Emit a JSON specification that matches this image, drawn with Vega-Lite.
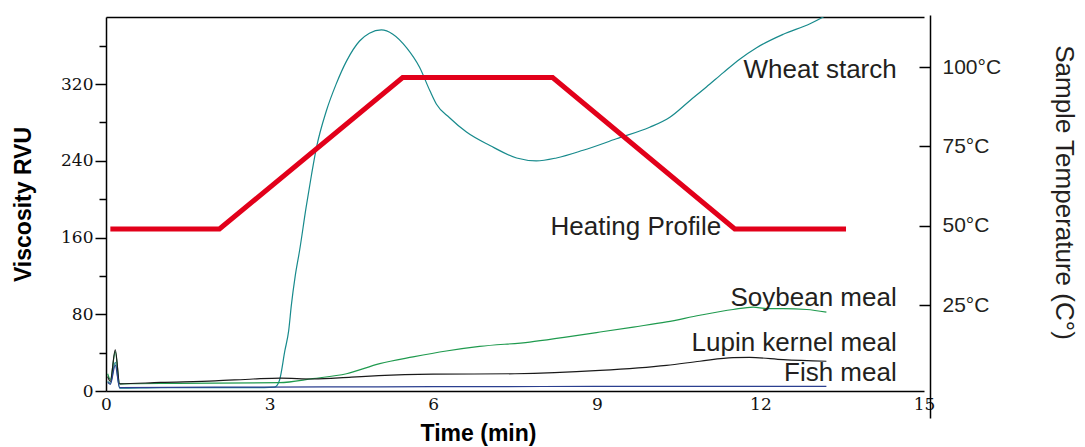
{
  "$schema": "https://vega.github.io/schema/vega-lite/v6.json",
  "width": 818,
  "height": 374,
  "autosize": "none",
  "padding": {"left": 106, "top": 17, "right": 161, "bottom": 56},
  "background": "white",
  "config": {
    "view": {"stroke": null},
    "axis": {"domainColor": "#000", "tickColor": "#000", "labelColor": "#111", "titleColor": "#000", "grid": false}
  },
  "datasets": {
    "rvu": [
      {"t": 0.03, "v": 10, "s": "Wheat starch"},
      {"t": 0.08, "v": 8, "s": "Wheat starch"},
      {"t": 0.17, "v": 30, "s": "Wheat starch"},
      {"t": 0.25, "v": 3, "s": "Wheat starch"},
      {"t": 1.0, "v": 3.5, "s": "Wheat starch"},
      {"t": 2.0, "v": 3.5, "s": "Wheat starch"},
      {"t": 2.9, "v": 3.5, "s": "Wheat starch"},
      {"t": 3.09, "v": 4, "s": "Wheat starch"},
      {"t": 3.18, "v": 11, "s": "Wheat starch"},
      {"t": 3.28, "v": 42, "s": "Wheat starch"},
      {"t": 3.35, "v": 63, "s": "Wheat starch"},
      {"t": 3.4, "v": 90, "s": "Wheat starch"},
      {"t": 3.47, "v": 120, "s": "Wheat starch"},
      {"t": 3.55, "v": 146.5, "s": "Wheat starch"},
      {"t": 3.67, "v": 191.7, "s": "Wheat starch"},
      {"t": 3.77, "v": 226, "s": "Wheat starch"},
      {"t": 3.86, "v": 254, "s": "Wheat starch"},
      {"t": 4.04, "v": 292, "s": "Wheat starch"},
      {"t": 4.22, "v": 320, "s": "Wheat starch"},
      {"t": 4.41, "v": 344, "s": "Wheat starch"},
      {"t": 4.65, "v": 365, "s": "Wheat starch"},
      {"t": 4.83, "v": 373, "s": "Wheat starch"},
      {"t": 5.05, "v": 376.5, "s": "Wheat starch"},
      {"t": 5.26, "v": 372, "s": "Wheat starch"},
      {"t": 5.51, "v": 358, "s": "Wheat starch"},
      {"t": 5.75, "v": 337.5, "s": "Wheat starch"},
      {"t": 5.94, "v": 313, "s": "Wheat starch"},
      {"t": 6.06, "v": 299, "s": "Wheat starch"},
      {"t": 6.3, "v": 285, "s": "Wheat starch"},
      {"t": 6.61, "v": 270, "s": "Wheat starch"},
      {"t": 7.04, "v": 256, "s": "Wheat starch"},
      {"t": 7.53, "v": 243, "s": "Wheat starch"},
      {"t": 7.89, "v": 240, "s": "Wheat starch"},
      {"t": 8.26, "v": 243, "s": "Wheat starch"},
      {"t": 8.75, "v": 251, "s": "Wheat starch"},
      {"t": 9.36, "v": 263, "s": "Wheat starch"},
      {"t": 9.97, "v": 275, "s": "Wheat starch"},
      {"t": 10.34, "v": 285.5, "s": "Wheat starch"},
      {"t": 10.71, "v": 303, "s": "Wheat starch"},
      {"t": 11.01, "v": 317, "s": "Wheat starch"},
      {"t": 11.32, "v": 332, "s": "Wheat starch"},
      {"t": 11.62, "v": 346, "s": "Wheat starch"},
      {"t": 11.93, "v": 358, "s": "Wheat starch"},
      {"t": 12.42, "v": 372, "s": "Wheat starch"},
      {"t": 12.91, "v": 383, "s": "Wheat starch"},
      {"t": 13.15, "v": 390, "s": "Wheat starch"},
      {"t": 13.21, "v": 392, "s": "Wheat starch"},
      {"t": 0.03, "v": 18, "s": "Soybean meal"},
      {"t": 0.08, "v": 12, "s": "Soybean meal"},
      {"t": 0.17, "v": 41, "s": "Soybean meal"},
      {"t": 0.25, "v": 7.5, "s": "Soybean meal"},
      {"t": 1.0, "v": 7.8, "s": "Soybean meal"},
      {"t": 2.0, "v": 8.2, "s": "Soybean meal"},
      {"t": 3.18, "v": 8.7, "s": "Soybean meal"},
      {"t": 3.79, "v": 12.9, "s": "Soybean meal"},
      {"t": 4.41, "v": 18, "s": "Soybean meal"},
      {"t": 5.02, "v": 28.5, "s": "Soybean meal"},
      {"t": 5.63, "v": 35.5, "s": "Soybean meal"},
      {"t": 6.24, "v": 41.7, "s": "Soybean meal"},
      {"t": 6.85, "v": 46.5, "s": "Soybean meal"},
      {"t": 7.77, "v": 51, "s": "Soybean meal"},
      {"t": 8.4, "v": 56, "s": "Soybean meal"},
      {"t": 9.06, "v": 61.5, "s": "Soybean meal"},
      {"t": 9.67, "v": 66.7, "s": "Soybean meal"},
      {"t": 10.28, "v": 72, "s": "Soybean meal"},
      {"t": 10.89, "v": 79, "s": "Soybean meal"},
      {"t": 11.5, "v": 85, "s": "Soybean meal"},
      {"t": 11.87, "v": 87.5, "s": "Soybean meal"},
      {"t": 12.11, "v": 86, "s": "Soybean meal"},
      {"t": 12.42, "v": 86, "s": "Soybean meal"},
      {"t": 12.85, "v": 85, "s": "Soybean meal"},
      {"t": 13.21, "v": 82.3, "s": "Soybean meal"},
      {"t": 0.03, "v": 15, "s": "Lupin kernel meal"},
      {"t": 0.08, "v": 10, "s": "Lupin kernel meal"},
      {"t": 0.17, "v": 43, "s": "Lupin kernel meal"},
      {"t": 0.25, "v": 7.5, "s": "Lupin kernel meal"},
      {"t": 1.0, "v": 9, "s": "Lupin kernel meal"},
      {"t": 2.0, "v": 10.5, "s": "Lupin kernel meal"},
      {"t": 2.7, "v": 12.5, "s": "Lupin kernel meal"},
      {"t": 3.2, "v": 13.5, "s": "Lupin kernel meal"},
      {"t": 3.8, "v": 12.5, "s": "Lupin kernel meal"},
      {"t": 4.5, "v": 14.5, "s": "Lupin kernel meal"},
      {"t": 5.0, "v": 16, "s": "Lupin kernel meal"},
      {"t": 6.0, "v": 17.5, "s": "Lupin kernel meal"},
      {"t": 7.5, "v": 18, "s": "Lupin kernel meal"},
      {"t": 9.06, "v": 21.5, "s": "Lupin kernel meal"},
      {"t": 10.28, "v": 26.8, "s": "Lupin kernel meal"},
      {"t": 10.89, "v": 31, "s": "Lupin kernel meal"},
      {"t": 11.5, "v": 34.8, "s": "Lupin kernel meal"},
      {"t": 11.8, "v": 35, "s": "Lupin kernel meal"},
      {"t": 12.42, "v": 32.7, "s": "Lupin kernel meal"},
      {"t": 13.21, "v": 31, "s": "Lupin kernel meal"},
      {"t": 0.03, "v": 9, "s": "Fish meal"},
      {"t": 0.08, "v": 7, "s": "Fish meal"},
      {"t": 0.17, "v": 27, "s": "Fish meal"},
      {"t": 0.25, "v": 3.5, "s": "Fish meal"},
      {"t": 2.0, "v": 4, "s": "Fish meal"},
      {"t": 4.0, "v": 4.2, "s": "Fish meal"},
      {"t": 6.0, "v": 4.5, "s": "Fish meal"},
      {"t": 8.0, "v": 4.7, "s": "Fish meal"},
      {"t": 10.0, "v": 4.9, "s": "Fish meal"},
      {"t": 13.21, "v": 4.9, "s": "Fish meal"}
    ],
    "heat": [
      {"t": 0.08, "temp": 49},
      {"t": 2.08, "temp": 49},
      {"t": 5.44, "temp": 96.7},
      {"t": 8.19, "temp": 96.7},
      {"t": 11.53, "temp": 49},
      {"t": 13.57, "temp": 49}
    ],
    "labels": [
      {"t": 14.5, "v": 335, "text": "Wheat starch"},
      {"t": 11.28, "v": 170.5, "text": "Heating Profile"},
      {"t": 14.5, "v": 96.5, "text": "Soybean meal"},
      {"t": 14.5, "v": 49.7, "text": "Lupin kernel meal"},
      {"t": 14.5, "v": 18.4, "text": "Fish meal"}
    ]
  },
  "layer": [
    {
      "layer": [
        {
          "data": {"name": "rvu"},
          "mark": {"type": "line", "strokeWidth": 1.2, "clip": true, "interpolate": "monotone"},
          "encoding": {
            "x": {
              "field": "t", "type": "quantitative",
              "scale": {"domain": [0, 15], "nice": false},
              "axis": {
                "orient": "bottom",
                "values": [0, 3, 6, 9, 12, 15],
                "ticks": false,
                "domainWidth": 1.5,
                "labelFont": "DejaVu Serif", "labelFontSize": 17, "labelPadding": 5,
                "labelFlush": false,
                "title": "Time (min)",
                "titleFont": "Liberation Sans", "titleFontSize": 23, "titleFontWeight": "bold",
                "titleX": 372, "titlePadding": 10
              }
            },
            "y": {
              "field": "v", "type": "quantitative",
              "scale": {"domain": [0, 390], "nice": false},
              "axis": {
                "orient": "left",
                "values": [0, 20, 40, 60, 80, 100, 120, 140, 160, 180, 200, 220, 240, 260, 280, 300, 320, 340, 360, 380],
                "labelExpr": "datum.value % 80 === 0 ? datum.label : ''",
                "tickSize": {"condition": {"test": "datum.value % 80 === 0", "value": 11}, "value": 7},
                "tickWidth": 1.5,
                "domainWidth": 1.5,
                "labelFont": "DejaVu Serif", "labelFontSize": 17, "labelPadding": 2,
                "title": "Viscosity RVU",
                "titleFont": "Liberation Sans", "titleFontSize": 23, "titleFontWeight": "bold",
                "titlePadding": 25
              }
            },
            "color": {
              "field": "s", "type": "nominal",
              "scale": {"domain": ["Wheat starch", "Soybean meal", "Lupin kernel meal", "Fish meal"], "range": ["#178a8c", "#1f9a4e", "#1a1a1a", "#2b3f8f"]},
              "legend": null
            },
            "detail": {"field": "s"}
          }
        },
        {
          "data": {"name": "labels"},
          "mark": {"type": "text", "align": "right", "baseline": "middle", "font": "Liberation Sans", "fontSize": 26, "color": "#231f20"},
          "encoding": {
            "x": {"field": "t", "type": "quantitative"},
            "y": {"field": "v", "type": "quantitative"},
            "text": {"field": "text"}
          }
        }
      ]
    },
    {
      "data": {"name": "heat"},
      "mark": {"type": "line", "color": "#e2001a", "strokeWidth": 5, "strokeJoin": "miter", "strokeCap": "butt"},
      "encoding": {
        "x": {
          "field": "t", "type": "quantitative",
          "axis": {"orient": "top", "labels": false, "ticks": false, "title": null, "domainWidth": 1.5}
        },
        "y": {
          "field": "temp", "type": "quantitative",
          "scale": {"domain": [-10.5, 116.4], "range": [401, -2], "nice": false, "zero": false},
          "axis": {
            "orient": "right",
            "offset": 6,
            "values": [25, 50, 75, 100],
            "labelExpr": "datum.value + '°C'",
            "tickSize": -11,
            "tickWidth": 1.5,
            "domainWidth": 1.5,
            "labelFont": "Liberation Sans", "labelFontSize": 21, "labelPadding": 23, "labelColor": "#231f20",
            "title": "Sample Temperature (C°)",
            "titleFont": "Liberation Sans", "titleFontSize": 26, "titleFontWeight": "normal", "titleColor": "#231f20",
            "titlePadding": 50,
            "titleY": 175
          }
        }
      }
    }
  ],
  "resolve": {"scale": {"y": "independent"}, "axis": {"x": "independent", "y": "independent"}}
}
